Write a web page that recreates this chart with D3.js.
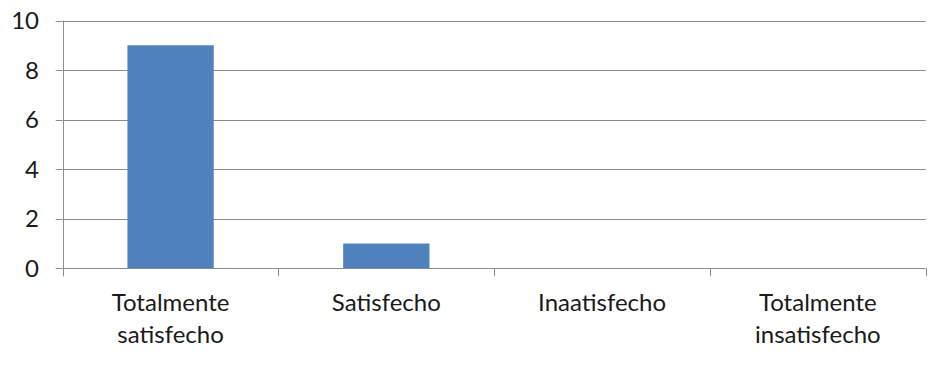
<!DOCTYPE html>
<html>
<head>
<meta charset="utf-8">
<script src="https://cdn.jsdelivr.net/npm/d3@7"></script>
<style>
  html, body { margin: 0; padding: 0; background: #fff; }
  svg { display: block; }
  text { font-family: Lato, "Liberation Sans", sans-serif; fill: #1a1a1a; }
</style>
</head>
<body>
<svg id="chart" width="934" height="366"></svg>
<script>
const categories = [["Totalmente", "satisfecho"], ["Satisfecho"], ["Inaatisfecho"], ["Totalmente", "insatisfecho"]];
const values = [9, 1, 0, 0];
const yTicks = [0, 2, 4, 6, 8, 10];

const svg = d3.select("#chart");
const pLeft = 62.7, pRight = 925.7, pTop = 20.5, pBottom = 268.3;
const fontSize = 24;

const x = d3.scaleBand().domain(d3.range(categories.length)).range([pLeft, pRight]).paddingInner(0.6).paddingOuter(0.3);
const xb = d3.scaleLinear().domain([0, categories.length]).range([pLeft, pRight]);
const y = d3.scaleLinear().domain([0, 10]).range([pBottom, pTop]);

const grid = "#8c8c8c";

// gridlines
svg.append("g").selectAll("line").data(yTicks.filter(d => d > 0)).join("line")
  .attr("x1", pLeft).attr("x2", pRight)
  .attr("y1", d => Math.round(y(d)) + 0.5).attr("y2", d => Math.round(y(d)) + 0.5)
  .attr("stroke", grid).attr("stroke-width", 1);

// bars
svg.append("g").selectAll("rect").data(values).join("rect")
  .attr("x", (d, i) => x(i)).attr("width", x.bandwidth())
  .attr("y", d => y(d)).attr("height", d => y(0) - y(d))
  .attr("fill", "#4f81bd");

// y axis line and ticks
svg.append("line").attr("x1", Math.round(pLeft) + 0.5).attr("x2", Math.round(pLeft) + 0.5)
  .attr("y1", pTop).attr("y2", pBottom + 8).attr("stroke", grid);
svg.append("g").selectAll("line").data(yTicks).join("line")
  .attr("x1", pLeft - 7).attr("x2", pLeft)
  .attr("y1", d => Math.round(y(d)) + 0.5).attr("y2", d => Math.round(y(d)) + 0.5)
  .attr("stroke", grid);
svg.append("g").selectAll("text").data(yTicks).join("text")
  .attr("x", 39).attr("y", d => y(d))
  .attr("dy", "0.36em")
  .attr("text-anchor", "end").attr("font-size", fontSize)
  .text(d => d);

// x axis
svg.append("line").attr("x1", pLeft).attr("x2", pRight)
  .attr("y1", Math.round(pBottom) + 0.5).attr("y2", Math.round(pBottom) + 0.5).attr("stroke", grid);
svg.append("g").selectAll("line").data(d3.range(1, categories.length + 1)).join("line")
  .attr("x1", d => Math.round(xb(d)) + 0.5).attr("x2", d => Math.round(xb(d)) + 0.5)
  .attr("y1", pBottom).attr("y2", pBottom + 8).attr("stroke", grid);

const lab = svg.append("g").selectAll("text").data(categories).join("text")
  .attr("text-anchor", "middle").attr("font-size", fontSize)
  .attr("transform", (d, i) => `translate(${x(i) + x.bandwidth() / 2},311)`);
lab.selectAll("tspan").data(d => d).join("tspan")
  .attr("x", 0).attr("y", (d, j) => j * 31.5)
  .text(d => d);
</script>
</body>
</html>
